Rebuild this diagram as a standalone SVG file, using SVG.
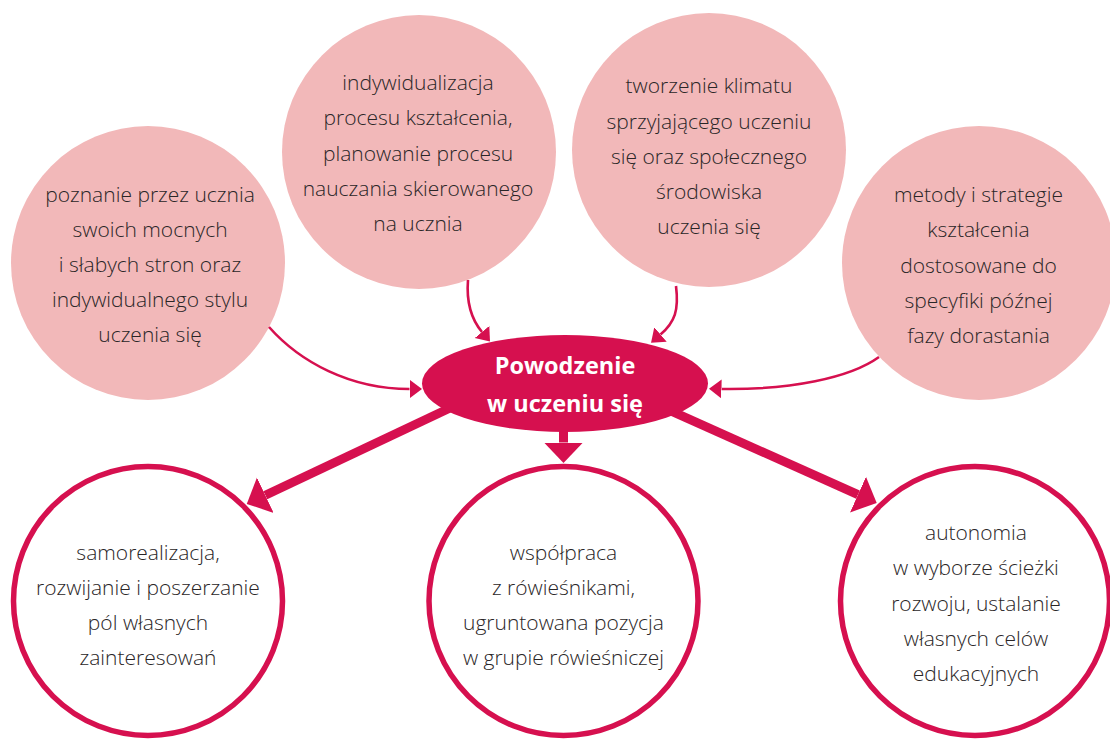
<svg xmlns="http://www.w3.org/2000/svg" width="1110" height="739" viewBox="0 0 1110 739">
<defs>
<style>
.pink{fill:#f2b8b9;stroke:none}
.ring{fill:#ffffff;stroke:#d6104f;stroke-width:5.5}
.thin{fill:none;stroke:#d6104f;stroke-width:2.6;marker-end:url(#mThin)}
.thick{fill:none;stroke:#d6104f;stroke-width:9;marker-end:url(#mThick)}
.t{font-family:"Open Sans","Noto Sans","Liberation Sans",sans-serif;font-weight:300;font-size:21px;fill:#2a2627;text-anchor:middle}
.c{font-family:"Open Sans","Noto Sans","Liberation Sans",sans-serif;font-weight:700;font-size:23.5px;fill:#ffffff;text-anchor:middle}
</style>
<marker id="mThin" markerUnits="userSpaceOnUse" markerWidth="13" markerHeight="20" viewBox="0 -10 13 20" refX="0" refY="0" orient="auto">
<path d="M0,-9.5 L12.5,0 L0,9.5 Z" fill="#d6104f"/>
</marker>
<marker id="mThick" markerUnits="userSpaceOnUse" markerWidth="21" markerHeight="40" viewBox="0 -20 21 40" refX="0" refY="0" orient="auto">
<path d="M0,-19.5 L20.5,0 L0,19.5 Z" fill="#d6104f"/>
</marker>
</defs>
<rect width="1110" height="739" fill="#ffffff"/>

<g id="node-poznanie">
<circle class="pink" cx="148" cy="263" r="137"/>
<text class="t"><tspan x="150" y="202">poznanie przez ucznia</tspan><tspan x="150" y="237">swoich mocnych</tspan><tspan x="150" y="272">i słabych stron oraz</tspan><tspan x="150" y="307">indywidualnego stylu</tspan><tspan x="150" y="342">uczenia się</tspan></text>
</g>

<g id="node-indywidualizacja">
<circle class="pink" cx="419" cy="152" r="137"/>
<text class="t"><tspan x="418" y="90">indywidualizacja</tspan><tspan x="418" y="125">procesu kształcenia,</tspan><tspan x="418" y="160.5">planowanie procesu</tspan><tspan x="418" y="195.5">nauczania skierowanego</tspan><tspan x="418" y="230.5">na ucznia</tspan></text>
</g>

<g id="node-klimat">
<circle class="pink" cx="709" cy="150" r="137"/>
<text class="t"><tspan x="709" y="93">tworzenie klimatu</tspan><tspan x="709" y="128.5">sprzyjającego uczeniu</tspan><tspan x="709" y="164">się oraz społecznego</tspan><tspan x="709" y="199">środowiska</tspan><tspan x="709" y="234">uczenia się</tspan></text>
</g>

<g id="node-metody">
<circle class="pink" cx="979" cy="263" r="137"/>
<text class="t"><tspan x="978.5" y="202">metody i strategie</tspan><tspan x="978.5" y="237">kształcenia</tspan><tspan x="978.5" y="272.5">dostosowane do</tspan><tspan x="978.5" y="307.5">specyfiki późnej</tspan><tspan x="978.5" y="342.5">fazy dorastania</tspan></text>
</g>

<g id="node-samorealizacja">
<circle class="ring" cx="148" cy="601" r="134.5"/>
<text class="t"><tspan x="148" y="559.5">samorealizacja,</tspan><tspan x="148" y="594.5">rozwijanie i poszerzanie</tspan><tspan x="148" y="629.5">pól własnych</tspan><tspan x="148" y="665">zainteresowań</tspan></text>
</g>

<g id="node-wspolpraca">
<circle class="ring" cx="563.5" cy="601" r="134.5"/>
<text class="t"><tspan x="563.5" y="559.5">współpraca</tspan><tspan x="563.5" y="594.5">z rówieśnikami,</tspan><tspan x="563.5" y="629.5">ugruntowana pozycja</tspan><tspan x="563.5" y="665">w grupie rówieśniczej</tspan></text>
</g>

<g id="node-autonomia">
<circle class="ring" cx="975" cy="601" r="134.5"/>
<text class="t"><tspan x="976" y="540">autonomia</tspan><tspan x="976" y="575">w wyborze ścieżki</tspan><tspan x="976" y="610.5">rozwoju, ustalanie</tspan><tspan x="976" y="646">własnych celów</tspan><tspan x="976" y="681">edukacyjnych</tspan></text>
</g>

<g id="connectors">
<path class="thin" d="M269,327 C300,362 350,389 409.5,389"/>
<path class="thin" d="M468,280 C466,305 472,320 482,332"/>
<path class="thin" d="M676,286 C679,310 675,322 660.5,334.5"/>
<path class="thin" d="M879,357 C850,378 790,390 721.5,389"/>
<path class="thick" d="M455.3,405.5 L265.3,495.2"/>
<path class="thick" d="M563.5,420 L563.5,442.5"/>
<path class="thick" d="M666.3,408.9 L858,494.6"/>
</g>

<g id="node-center">
<ellipse cx="565" cy="383.5" rx="143" ry="48.5" fill="#d6104f"/>
<text class="c"><tspan x="565" y="374">Powodzenie</tspan><tspan x="565" y="411.5">w uczeniu się</tspan></text>
</g>
</svg>
